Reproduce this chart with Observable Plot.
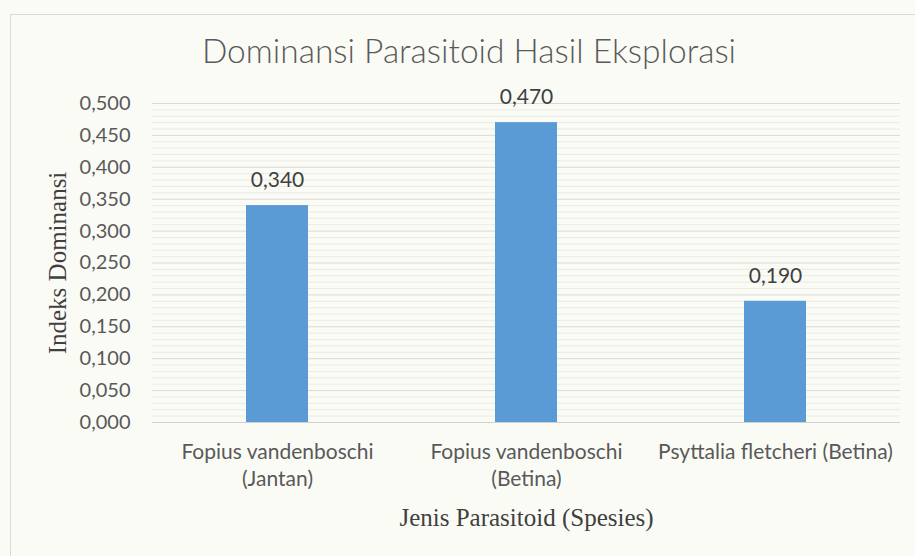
<!DOCTYPE html>
<html>
<head>
<meta charset="utf-8">
<script src="https://cdn.jsdelivr.net/npm/d3@7"></script>
<script src="https://cdn.jsdelivr.net/npm/@observablehq/plot@0.6"></script>
<style>
  html, body { margin: 0; padding: 0; background: #fbfbf6; }
  #wrap { position: relative; width: 915px; height: 556px; overflow: hidden; background: #fbfbf6; }
  #frame { position: absolute; left: 10px; top: 14px; width: 920px; height: 560px; border-left: 1px solid #d9d9d9; border-top: 1px solid #d9d9d9; box-sizing: border-box; }
  #title { position: absolute; top: 35px; left: 469px; transform: translateX(-50%); white-space: nowrap;
           font-family: Lato, sans-serif; font-weight: 300; font-size: 33.5px; line-height: 30px; color: #595959; }
  #chart { position: absolute; left: 0; top: 80px; }
</style>
</head>
<body>
<div id="wrap">
  <div id="frame"></div>
  <div id="title">Dominansi Parasitoid Hasil Eksplorasi</div>
  <div id="chart"></div>
</div>
<script>
// Data
const species = ["Fopius vandenboschi (Jantan)", "Fopius vandenboschi (Betina)", "Psyttalia fletcheri (Betina)"];
const speciesLabels = ["Fopius vandenboschi\n(Jantan)", "Fopius vandenboschi\n(Betina)", "Psyttalia fletcheri (Betina)"];
const dominance = [0.340, 0.470, 0.190];
const yTicks = [0, 0.05, 0.10, 0.15, 0.20, 0.25, 0.30, 0.35, 0.40, 0.45, 0.50];
const yTitle = "Indeks Dominansi";
const xTitle = "Jenis Parasitoid (Spesies)";

const rows = species.map((s, i) => ({species: s, value: dominance[i]}));
const fmt = v => d3.format(".3f")(v).replace(".", ",");
const labelOf = new Map(species.map((s, i) => [s, speciesLabels[i]]));
const minorTicks = d3.range(0, 51).map(i => i / 100).filter(v => Math.round(v * 100) % 5 !== 0);

const chart = Plot.plot({
  width: 915,
  height: 476,
  marginTop: 23,
  marginBottom: 134,
  marginLeft: 152,
  marginRight: 15,
  style: {background: "transparent", color: "#595959", fontFamily: "Lato, sans-serif"},
  x: {domain: species, paddingInner: 0.75, paddingOuter: 0.375, label: null},
  y: {domain: [0, 0.5], label: null},
  marks: [
    Plot.ruleY(minorTicks, {stroke: "#ebebe6", strokeWidth: 1}),
    Plot.ruleY(yTicks.filter(v => v > 0), {stroke: "#d9d9d6", strokeWidth: 1}),
    Plot.barY(rows, {x: "species", y: "value", fill: "#5b9bd5"}),
    Plot.ruleY([0], {stroke: "#d0d0cc", strokeWidth: 1}),
    Plot.axisY({ticks: yTicks, tickFormat: fmt, tickSize: 0, tickPadding: 22, fontSize: 20, label: null, fill: "#595959"}),
    Plot.axisX({tickFormat: d => labelOf.get(d), tickSize: 0, tickPadding: 17, fontSize: 21, lineHeight: 1.29, label: null, fill: "#595959"}),
    Plot.text(rows, {x: "species", y: "value", text: d => fmt(d.value), dy: -25, fontSize: 21, fill: "#404040"}),
    Plot.text([yTitle], {frameAnchor: "left", textAnchor: "middle", lineAnchor: "middle", dx: -95, rotate: -90, fontSize: 25, fontFamily: "Liberation Serif, serif", fill: "#404040"}),
    Plot.text([xTitle], {frameAnchor: "bottom", textAnchor: "middle", lineAnchor: "middle", dy: 95, fontSize: 25, fontFamily: "Liberation Serif, serif", fill: "#404040"})
  ]
});
document.getElementById("chart").appendChild(chart);
</script>
</body>
</html>
